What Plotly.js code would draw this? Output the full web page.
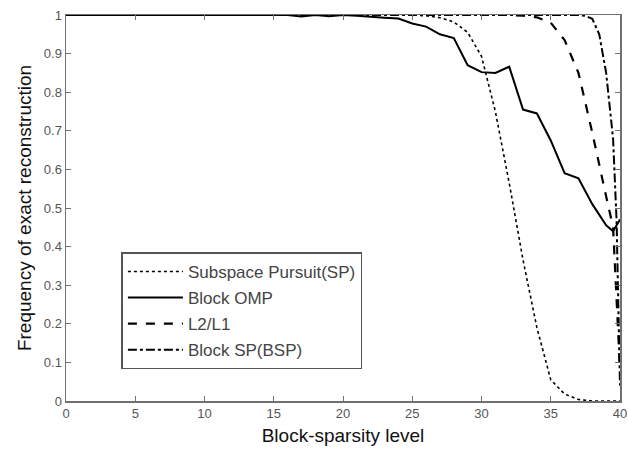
<!DOCTYPE html>
<html>
<head>
<meta charset="utf-8">
<script src="https://cdn.plot.ly/plotly-3.0.1.min.js"></script>
<style>html,body{margin:0;padding:0;background:#fff;}#chart{width:628px;height:450px;}</style>
</head>
<body>
<div id="chart"></div>
<script>
// Subspace Pursuit (SP) - dotted
var spX = [0,5,10,15,20,25,26,27,28,29,30,31,32,33,34,35,36,37,38,39,40];
var spY = [1,1,1,1,1,1,0.998,0.993,0.982,0.955,0.893,0.75,0.565,0.365,0.19,0.055,0.018,0.004,0,0,0];

// Block OMP - solid
var ompX = [0,5,10,15,16,17,18,19,20,21,22,23,24,25,26,27,28,29,30,31,32,33,34,35,36,37,38,39,39.5,40];
var ompY = [1,1,1,1,1,0.996,1,0.997,1,0.998,0.995,0.993,0.991,0.978,0.97,0.95,0.94,0.87,0.852,0.85,0.866,0.755,0.745,0.675,0.59,0.577,0.51,0.455,0.44,0.47];

// L2/L1 - dashed
var l21X = [0,5,10,15,20,25,30,32,33,34,35,36,37,38,39,39.5,40];
var l21Y = [1,1,1,1,1,1,1,1,0.998,0.994,0.98,0.935,0.85,0.695,0.53,0.45,0.08];

// Block SP (BSP) - dash-dot
var bspX = [0,5,10,15,20,25,30,35,37,37.5,38,38.5,39,39.5,39.75,40];
var bspY = [1,1,1,1,1,1,1,1,1,0.998,0.99,0.95,0.85,0.68,0.47,0.04];

var names = ['Subspace Pursuit(SP)','Block OMP','L2/L1','Block SP(BSP)'];
var xTickVals = [0,5,10,15,20,25,30,35,40];
var yTickVals = [0,0.1,0.2,0.3,0.4,0.5,0.6,0.7,0.8,0.9,1];

var FONT = 'Arial, "Liberation Sans", Helvetica, sans-serif';

function tr(x, y, name, dash, width, grp) {
  return {x: x, y: y, name: name, type: 'scatter', mode: 'lines',
    line: {color: '#000', width: width, dash: dash}, cliponaxis: false, legendgroup: grp};
}

var data = [
  tr(spX, spY, names[0], 'dot', 1.6, 'a'),
  tr(ompX, ompY, names[1], 'solid', 2, 'b'),
  tr(l21X, l21Y, names[2], 'dash', 2.2, 'c'),
  tr(bspX, bspY, names[3], 'dashdot', 2, 'd')
];

var axisCommon = {
  showline: true, mirror: 'ticks', linecolor: '#707070', linewidth: 1.5,
  ticks: 'inside', ticklen: 5, tickcolor: '#707070', tickwidth: 1,
  showgrid: false, zeroline: false, ticklabeloverflow: 'allow',
  tickfont: {family: FONT, size: 13, color: '#555'}
};

var layout = {
  width: 628, height: 450,
  paper_bgcolor: '#fff', plot_bgcolor: '#fff',
  margin: {l: 66, r: 8, t: 15, b: 49},
  showlegend: true,
  legend: {
    x: 0.1, y: 0.385, xanchor: 'left', yanchor: 'top',
    bgcolor: '#fff', bordercolor: '#555', borderwidth: 1.5,
    font: {family: FONT, size: 17, color: '#444'},
    itemwidth: 55, tracegroupgap: 1, traceorder: 'grouped'
  },
  xaxis: Object.assign({}, axisCommon, {
    range: [0, 40], tickvals: xTickVals, ticktext: xTickVals.map(String),
    title: {text: 'Block-sparsity level', font: {family: FONT, size: 19, color: '#111'}, standoff: 8}
  }),
  yaxis: Object.assign({}, axisCommon, {
    range: [0, 1], tickvals: yTickVals, ticktext: yTickVals.map(String),
    title: {text: 'Frequency of exact reconstruction', font: {family: FONT, size: 19, color: '#111'}, standoff: 7}
  })
};

Plotly.newPlot('chart', data, layout, {staticPlot: true, displayModeBar: false});
</script>
</body>
</html>
